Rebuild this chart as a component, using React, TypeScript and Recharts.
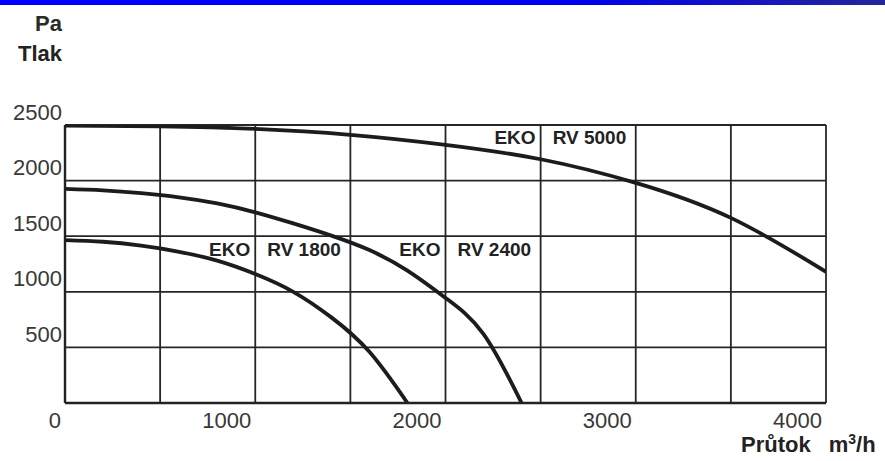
import React from 'react';
import {
  LineChart,
  Line,
  XAxis,
  YAxis,
  CartesianGrid,
  ReferenceDot,
} from 'recharts';

// flow (m3/h) and pressure (Pa)
const rv1800Flow = [0, 200, 400, 600, 800, 1000, 1200, 1400, 1600, 1800];
const rv1800Pa = [1465, 1450, 1415, 1360, 1280, 1160, 1000, 770, 460, 0];

const rv2400Flow = [0, 200, 400, 600, 800, 1000, 1200, 1400, 1600, 1800, 2000, 2200, 2400];
const rv2400Pa = [1925, 1912, 1887, 1850, 1795, 1715, 1615, 1505, 1375, 1190, 945, 620, 0];

const rv5000Flow = [0, 500, 1000, 1500, 2000, 2500, 3000, 3500, 4000];
const rv5000Pa = [2495, 2487, 2465, 2412, 2322, 2192, 1980, 1665, 1180];

const xTicks = [0, 500, 1000, 1500, 2000, 2500, 3000, 3500, 4000];
const yTicks = [0, 500, 1000, 1500, 2000, 2500];

// curve tags: grid value the tag straddles, pressure level of the text
const tagNames = ['RV 1800', 'RV 2400', 'RV 5000'];
const tagFlow = [1000, 2000, 2500];
const tagPa = [1376, 1376, 2392];

const toRows = (flow: number[], pa: number[]) =>
  flow.map((f, i) => ({ flow: f, p: pa[i] }));

const series = [
  toRows(rv1800Flow, rv1800Pa),
  toRows(rv2400Flow, rv2400Pa),
  toRows(rv5000Flow, rv5000Pa),
];

const FONT = '"Liberation Sans", Arial, sans-serif';
const INK = '#222';

const XTick = (props: any) => {
  const { x, y, payload } = props;
  if (payload.value % 1000 !== 0) return null;
  return (
    <text
      x={x - 4}
      y={y + 17}
      textAnchor="end"
      dominantBaseline="central"
      fontSize={22}
      fontFamily={FONT}
      fill="#383838"
    >
      {payload.value}
    </text>
  );
};

const YTick = (props: any) => {
  const { x, y, payload } = props;
  if (payload.value === 0) return null;
  return (
    <text
      x={x}
      y={y - 13}
      textAnchor="end"
      dominantBaseline="central"
      fontSize={22}
      fontFamily={FONT}
      fill="#383838"
    >
      {payload.value}
    </text>
  );
};

const tagShape = (name: string) => (props: any) => {
  const { cx, cy } = props;
  return (
    <g fontFamily={FONT} fontSize={19} fontWeight="bold" fill={INK}>
      <text x={cx - 5} y={cy} textAnchor="end" dominantBaseline="central">
        EKO
      </text>
      <text x={cx + 12} y={cy} textAnchor="start" dominantBaseline="central">
        {name}
      </text>
    </g>
  );
};

export default function App() {
  return (
    <div
      style={{
        position: 'absolute',
        left: 0,
        top: 0,
        width: 885,
        height: 461,
        background: '#fff',
        fontFamily: FONT,
        overflow: 'hidden',
      }}
    >
      <div
        style={{
          position: 'absolute',
          left: 0,
          top: 0,
          width: 885,
          height: 5,
          background: 'linear-gradient(to right, #0000ff, #0000ee 65%, #25259c)',
        }}
      />
      <div
        style={{
          position: 'absolute',
          left: 0,
          top: 13,
          width: 62,
          textAlign: 'right',
          fontSize: 22,
          lineHeight: '22px',
          fontWeight: 'bold',
          color: '#2a2a2a',
        }}
      >
        Pa
      </div>
      <div
        style={{
          position: 'absolute',
          left: 0,
          top: 43,
          width: 62,
          textAlign: 'right',
          fontSize: 22,
          lineHeight: '22px',
          fontWeight: 'bold',
          color: INK,
        }}
      >
        Tlak
      </div>
      <div
        style={{
          position: 'absolute',
          left: 741,
          top: 434,
          fontSize: 22,
          lineHeight: '22px',
          fontWeight: 'bold',
          color: INK,
          whiteSpace: 'nowrap',
        }}
      >
        Průtok
        <span style={{ marginLeft: 18 }}>
          m<sup style={{ fontSize: 14, lineHeight: 0 }}>3</sup>/h
        </span>
      </div>
      <LineChart
        width={885}
        height={461}
        margin={{ top: 125, right: 59, bottom: 28, left: 0 }}
        style={{ position: 'absolute', left: 0, top: 0 }}
      >
        <CartesianGrid stroke="#262626" strokeWidth={1.8} />
        <XAxis
          type="number"
          dataKey="flow"
          domain={[0, 4000]}
          ticks={xTicks}
          interval={0}
          height={30}
          tickLine={false}
          tickSize={0}
          tickMargin={0}
          axisLine={{ stroke: '#222', strokeWidth: 2.4 }}
          tick={<XTick />}
          allowDataOverflow
        />
        <YAxis
          type="number"
          domain={[0, 2500]}
          ticks={yTicks}
          interval={0}
          width={65}
          tickLine={false}
          tickSize={0}
          tickMargin={3}
          axisLine={{ stroke: '#222', strokeWidth: 2.4 }}
          tick={<YTick />}
          allowDataOverflow
        />
        {series.map((rows, i) => (
          <Line
            key={tagNames[i]}
            data={rows}
            dataKey="p"
            type="natural"
            stroke="#1c1c1c"
            strokeWidth={3.8}
            dot={false}
            activeDot={false}
            isAnimationActive={false}
          />
        ))}
        {tagNames.map((name, i) => (
          <ReferenceDot
            key={name}
            x={tagFlow[i]}
            y={tagPa[i]}
            r={0}
            shape={tagShape(name)}
          />
        ))}
      </LineChart>
    </div>
  );
}
